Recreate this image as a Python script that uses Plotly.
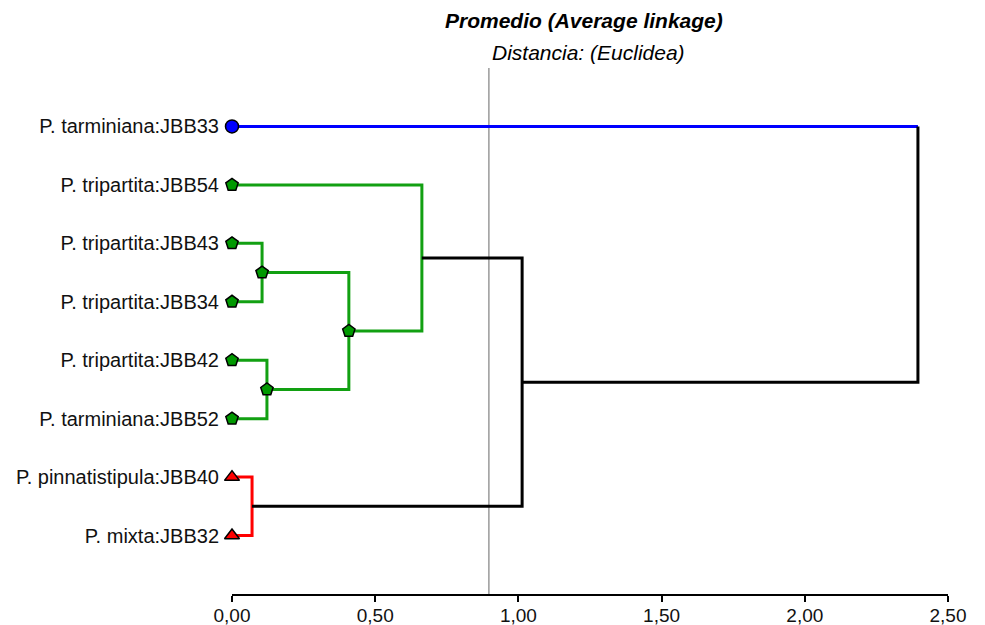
import plotly.graph_objects as go

# leaves, top to bottom
labels = ["P. tarminiana:JBB33", "P. tripartita:JBB54", "P. tripartita:JBB43",
          "P. tripartita:JBB34", "P. tripartita:JBB42", "P. tarminiana:JBB52",
          "P. pinnatistipula:JBB40", "P. mixta:JBB32"]
leaf_group = ["blue", "green", "green", "green", "green", "green", "red", "red"]

# merges: new node ids start at 8 (child a, child b, distance, colour, marker)
merge_a = [2, 4, 8, 1, 6, 11, 0]
merge_b = [3, 5, 9, 10, 7, 12, 13]
merge_h = [0.105, 0.122, 0.408, 0.663, 0.070, 1.013, 2.395]
merge_col = ["green", "green", "green", "green", "red", "black", "black"]
merge_mark = [True, True, True, False, False, False, False]

cut = 0.897
xticks = [0, 0.5, 1.0, 1.5, 2.0, 2.5]
xtick_text = ["0,00", "0,50", "1,00", "1,50", "2,00", "2,50"]

colors = {"blue": "#0000ff", "green": "#12a012", "red": "#ff0000", "black": "#000000"}
fills = {"blue": "#0000ff", "green": "#009900", "red": "#ff0000"}
symbols = {"blue": "circle", "green": "pentagon", "red": "triangle-up"}

n = len(labels)
ypos = {i: float(i) for i in range(n)}
hpos = {i: 0.0 for i in range(n)}

fig = go.Figure()

# cut line
fig.add_trace(go.Scatter(x=[cut, cut], y=[-1, n], mode="lines",
                         line=dict(color="#808080", width=1.2),
                         hoverinfo="skip", showlegend=False))

node_marks_x, node_marks_y = [], []
for k in range(len(merge_a)):
    a, b, h = merge_a[k], merge_b[k], merge_h[k]
    node = n + k
    ya, yb = ypos[a], ypos[b]
    pc = colors[merge_col[k]]
    ca = colors[leaf_group[a]] if a < n else pc
    cb = colors[leaf_group[b]] if b < n else pc
    # segments: horiz a, vertical, horiz b
    segs = [([hpos[a], h], [ya, ya], ca), ([h, h], [ya, yb], pc), ([h, hpos[b]], [yb, yb], cb)]
    # join adjacent same colour segments
    paths = []
    for xs, ys, c in segs:
        if paths and paths[-1][2] == c:
            paths[-1][0].append(xs[1])
            paths[-1][1].append(ys[1])
        else:
            paths.append([list(xs), list(ys), c])
    for xs, ys, c in paths:
        fig.add_trace(go.Scatter(x=xs, y=ys, mode="lines", line=dict(color=c, width=3),
                                 hoverinfo="skip", showlegend=False, cliponaxis=False))
    ypos[node] = (ya + yb) / 2
    hpos[node] = h
    if merge_mark[k]:
        node_marks_x.append(h)
        node_marks_y.append(ypos[node])

# leaf markers
for g in ["blue", "green", "red"]:
    idx = [i for i in range(n) if leaf_group[i] == g]
    fig.add_trace(go.Scatter(x=[0] * len(idx), y=[ypos[i] for i in idx], mode="markers",
                             marker=dict(symbol=symbols[g], size=13, color=fills[g],
                                         line=dict(color="black", width=1.5)),
                             showlegend=False, cliponaxis=False))
fig.add_trace(go.Scatter(x=node_marks_x, y=node_marks_y, mode="markers",
                         marker=dict(symbol="pentagon", size=13, color=fills["green"],
                                     line=dict(color="black", width=1.5)),
                         showlegend=False, cliponaxis=False))

fig.update_layout(
    width=977, height=617,
    margin=dict(l=224, r=37, t=60, b=31),
    plot_bgcolor="white", paper_bgcolor="white",
    font=dict(family="Liberation Sans, Arial", size=20, color="#111111"),
    xaxis=dict(range=[0, 2.5], tickvals=xticks, ticktext=xtick_text, automargin=False,
               showgrid=False, zeroline=False, showline=True, linecolor="black", linewidth=2,
               ticks="outside", ticklen=6, tickwidth=2, tickcolor="black",
               ticklabelstandoff=-3, tickfont=dict(size=19)),
    yaxis=dict(range=[n, -1], tickvals=list(range(n)), ticktext=labels, automargin=False,
               showgrid=False, zeroline=False, showline=False, ticks="",
               ticklabelstandoff=12, tickfont=dict(size=20)),
    annotations=[
        dict(text="<b><i>Promedio (Average linkage)</i></b>", xref="paper", yref="paper",
             x=0.4916, y=1.0, yshift=48, yanchor="middle", showarrow=False,
             font=dict(size=21, color="black")),
        dict(text="<i>Distancia: (Euclidea)</i>", xref="paper", yref="paper",
             x=0.4986, y=1.0, yshift=16, yanchor="middle", showarrow=False,
             font=dict(size=21, color="black")),
    ],
)

fig.write_html("out.html")
